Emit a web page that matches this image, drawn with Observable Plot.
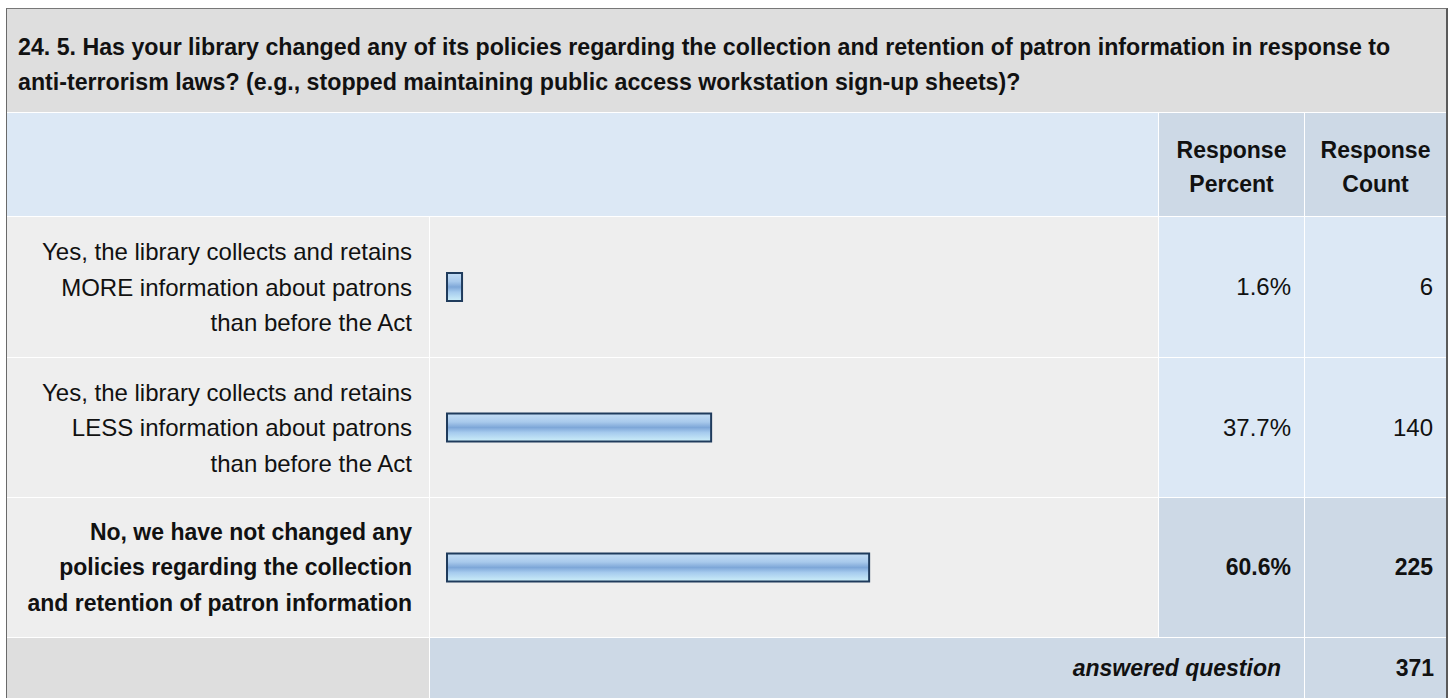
<!DOCTYPE html>
<html>
<head>
<meta charset="utf-8">
<script src="https://cdn.jsdelivr.net/npm/d3@7"></script>
<script src="https://cdn.jsdelivr.net/npm/@observablehq/plot@0.6"></script>
<style>
  html, body { margin: 0; padding: 0; background: #fff; overflow: hidden; }
  #box {
    position: absolute; left: 6px; top: 8px;
    border-left: 1px solid #6a6a6a; border-top: 1px solid #777;
    border-right: 2px solid #5a5a5a;
    background: #fff;
    display: grid;
    grid-template-columns: 422px 728px 145px 141px;
    grid-template-rows: 103px 103px 140px 139px 139px 60px;
    gap: 1px;
    font-family: "Liberation Sans", Arial, sans-serif;
    color: #111;
  }
  .cell { box-sizing: border-box; display: flex; align-items: center; white-space: pre-line; }
  .title { grid-column: 1 / 5; background: #dedede; font-weight: bold; font-size: 23.2px; line-height: 35px; padding-left: 11px; padding-top: 8px; }
  .hblank { grid-column: 1 / 3; background: #dce8f5; }
  .hcol { background: #cdd9e6; font-weight: bold; font-size: 23px; line-height: 34px; justify-content: center; text-align: center; padding-top: 4px; }
  .label { background: #eeeeee; font-size: 24px; line-height: 35.5px; justify-content: flex-end; text-align: right; padding-right: 17px; padding-top: 1px; }
  .bar { background: #eeeeee; }
  .val { background: #dce8f5; font-size: 24px; justify-content: flex-end; padding-right: 13px; }
  .hi { font-weight: bold; font-size: 23px; }
  .val.hi { background: #cdd9e6; }
  .fblank { background: #dedede; }
  .fq { grid-column: 2 / 4; background: #cdd9e6; font-weight: bold; font-style: italic; font-size: 23px; justify-content: flex-end; padding-right: 23px; }
  .fc { background: #cdd9e6; font-weight: bold; font-size: 23px; justify-content: flex-end; padding-right: 12px; }
</style>
</head>
<body>
<div id="box"></div>
<script>
const titleText = "24. 5. Has your library changed any of its policies regarding the collection and retention of patron information in response to\nanti-terrorism laws? (e.g., stopped maintaining public access workstation sign-up sheets)?";
const headerLabels = ["Response\nPercent", "Response\nCount"];
const answers = [
  "Yes, the library collects and retains\nMORE information about patrons\nthan before the Act",
  "Yes, the library collects and retains\nLESS information about patrons\nthan before the Act",
  "No, we have not changed any\npolicies regarding the collection\nand retention of patron information"
];
const percents = [1.6, 37.7, 60.6];
const counts = [6, 140, 225];
const answeredLabel = "answered question";
const answeredCount = 371;

const box = document.getElementById("box");
function cell(cls, text) {
  const d = document.createElement("div");
  d.className = "cell " + cls;
  if (text != null) d.textContent = text;
  box.appendChild(d);
  return d;
}

cell("title", titleText);
cell("hblank");
headerLabels.forEach(h => cell("hcol", h));

const maxCount = d3.max(counts);
answers.forEach((a, i) => {
  const hi = counts[i] === maxCount ? " hi" : "";
  cell("label" + hi, a);
  const barCell = cell("bar");
  const gid = "barGrad" + i;
  const plot = Plot.plot({
    width: 728,
    height: i === 0 ? 140 : 139,
    margin: 0,
    style: { background: "transparent", overflow: "visible" },
    x: { domain: [0, 100], range: [17, 707], axis: null },
    marks: [
      () => {
        const defs = d3.create("svg:defs");
        const g = defs.append("linearGradient").attr("id", gid)
          .attr("x1", 0).attr("y1", 0).attr("x2", 0).attr("y2", 1);
        [[0, "#c4ddf4"], [0.3, "#a9caec"], [0.5, "#7ea7d8"], [0.68, "#a6cbee"], [1, "#cdeff9"]]
          .forEach(([o, c]) => g.append("stop").attr("offset", o).attr("stop-color", c));
        return defs.node();
      },
      Plot.barX([percents[i]], {
        x: d => d,
        fill: `url(#${gid})`,
        stroke: "#1f3b5c",
        strokeWidth: 2,
        insetTop: i === 0 ? 56 : 55.5,
        insetBottom: i === 0 ? 56 : 55.5,
        insetRight: -4
      })
    ]
  });
  barCell.appendChild(plot);
  cell("val" + hi, percents[i].toFixed(1) + "%");
  cell("val" + hi, String(counts[i]));
});

cell("fblank");
cell("fq", answeredLabel);
cell("fc", String(answeredCount));
</script>
</body>
</html>
